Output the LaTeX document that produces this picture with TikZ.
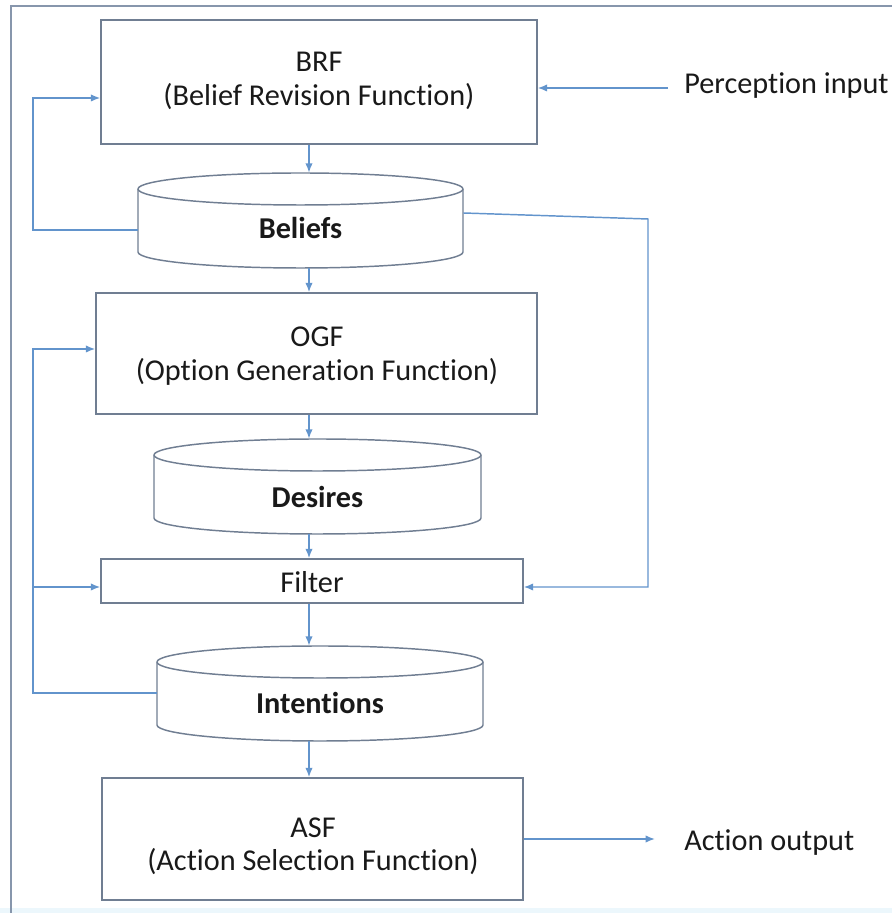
\documentclass[tikz,border=0pt]{standalone}
\usepackage{fontspec}
\setmainfont{Carlito}[Ligatures=NoCommon]
\usetikzlibrary{arrows.meta,fit}

\definecolor{boxgray}{RGB}{112,126,146}
\definecolor{flowblue}{RGB}{98,148,204}
\definecolor{framegray}{RGB}{135,150,172}
\definecolor{inkblack}{RGB}{25,25,25}
\definecolor{bandcyan}{RGB}{236,247,252}

% cylinder-shaped store: name, left x, right x, top y, bottom y, label y, label
\newcommand\storedrum[7]{%
  \draw[storeline] (#2,{#4-16}) -- (#2,{#5+16})
    arc[start angle=180, end angle=360, x radius={(#3-#2)/2}, y radius=16]
    -- (#3,{#4-16})
    arc[start angle=0, end angle=180, x radius={(#3-#2)/2}, y radius=16]
    -- cycle;
  \draw[storeline] (#2,{#4-16})
    arc[start angle=180, end angle=360, x radius={(#3-#2)/2}, y radius=16];
  \node[storearea, fit={(#2,#5) (#3,#4)}] (#1) {};
  \node[storelabel] (#1-label) at ({(#2+#3)/2},#6) {#7};
}

\begin{document}
\begin{tikzpicture}[x=0.75pt,y=0.75pt,
  box/.style={draw=boxgray, line width=1.1pt, inner sep=0pt},
  boxtext/.style={inner sep=0pt, align=center, text=inkblack,
    font=\fontsize{22.7}{25}\selectfont},
  storearea/.style={inner sep=0pt},
  storeline/.style={draw=boxgray, line width=1.1pt},
  storelabel/.style={font=\fontsize{22.7}{25}\selectfont\bfseries, text=inkblack},
  flow/.style={draw=flowblue, line width=1.1pt, -{Latex[length=7pt,width=5.5pt]}},
  outlabel/.style={font=\fontsize{22.7}{25}\selectfont, text=inkblack,
    inner sep=0pt, anchor=mid west},
]
\useasboundingbox (0,0) rectangle (892,913);

% page frame
\fill[bandcyan] (0,0) rectangle (892,5);
\draw[framegray, line width=1.5pt] (11,0) -- (11,907) -- (892,907);

% function boxes
\node[box, fit={(101,769) (537,893)}] (brf) {};
\node[boxtext] (brf-text) at (319,832) {BRF\\(Belief Revision Function)};
\node[box, fit={(96,499) (537,620)}] (ogf) {};
\node[boxtext] (ogf-text) at (317,557) {OGF\\(Option Generation Function)};
\node[box, fit={(101,310) (523,354)}] (filter) {};
\node[boxtext] (filter-text) at (312,331) {Filter};
\node[box, fit={(102,13) (523,135)}] (asf) {};
\node[boxtext] (asf-text) at (313,67) {ASF\\(Action Selection Function)};

% stores
\storedrum{beliefs}{138}{463}{740}{645}{685}{Beliefs}
\storedrum{desires}{154}{481}{474}{379}{416}{Desires}
\storedrum{intentions}{157}{483}{267}{172}{210}{Intentions}

% helper coordinates for the connector routes
\coordinate (spine) at (309,0);
\coordinate (loopx) at (33,0);
\coordinate (perc) at (668,825);
\coordinate (act) at (655,74);
\coordinate (bl) at (0,683);
\coordinate (brfin) at (0,815);
\coordinate (br) at (0,700);
\coordinate (bturn) at (648,694);
\coordinate (fin) at (0,326);
\coordinate (il) at (0,220);
\coordinate (ogfin) at (0,564);

% outside input / output
\draw[flow] (perc) -- (perc -| brf.east);
\node[outlabel] (perclabel) at (684,823) {Perception input};
\draw[flow] (asf.east |- act) -- (act);
\node[outlabel] (actlabel) at (684,66) {Action output};

% main downward flow
\draw[flow] (brf.south -| spine) -- (beliefs.north -| spine);
\draw[flow] (beliefs.south -| spine) -- (ogf.north -| spine);
\draw[flow] (ogf.south -| spine) -- (desires.north -| spine);
\draw[flow] (desires.south -| spine) -- (filter.north -| spine);
\draw[flow] (filter.south -| spine) -- (intentions.north -| spine);
\draw[flow] (intentions.south -| spine) -- (asf.north -| spine);

% feedback routes
\draw[flow] (beliefs.west |- bl) -- (loopx |- bl) -- (loopx |- brfin) -- (brf.west |- brfin);
\draw[flow] (beliefs.east |- br) -- (bturn) -- (bturn |- fin) -- (filter.east |- fin);
\draw[flow] (intentions.west |- il) -- (loopx |- il) -- (loopx |- ogfin) -- (ogf.west |- ogfin);
\draw[flow] (loopx |- fin) -- (filter.west |- fin);
\end{tikzpicture}
\end{document}
